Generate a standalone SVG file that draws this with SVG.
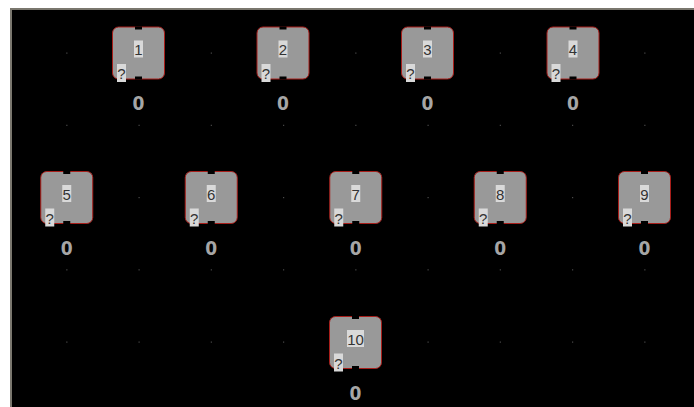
<svg xmlns="http://www.w3.org/2000/svg" xmlns:xlink="http://www.w3.org/1999/xlink" width="694" height="407" viewBox="0 0 694 407">
  <style>
    .body { fill: #999999; stroke: #a81e1a; stroke-width: 1; }
    .notch { fill: #000000; }
    .tag { fill: #d9d9d9; }
    .id { font-family: "Liberation Sans", Arial, sans-serif; font-size: 15px; fill: #333333; text-anchor: middle; }
    .q { font-family: "Liberation Sans", Arial, sans-serif; font-size: 15px; fill: #333333; text-anchor: middle; }
    .val { font-family: "DejaVu Sans Condensed", "Liberation Sans", sans-serif; font-size: 19px; font-weight: bold; fill: #a6a6a6; text-anchor: middle; }
    .dot { fill: #4a4a4a; }
  </style>
  <defs>
    <!-- shared block shape, centred on 0,0 -->
    <g id="block">
      <rect class="body" x="-26" y="-26" width="52" height="52" rx="6" ry="6"/>
      <rect class="notch" x="-3.5" y="-26.5" width="7" height="3"/>
      <rect class="notch" x="-3.5" y="23.5" width="7" height="3"/>
      <rect class="tag" x="-21.5" y="11" width="9" height="18"/>
      <text class="q" x="-17" y="26">?</text>
      <text class="val" x="0" y="57">0</text>
    </g>
    <rect id="d" class="dot" x="-0.5" y="-0.5" width="1.2" height="1.2"/>
  </defs>

  <!-- page and canvas frame -->
  <rect x="0" y="0" width="694" height="407" fill="#ffffff"/>
  <rect x="10" y="8" width="684" height="399" fill="#7a776e"/>
  <rect x="12" y="10" width="682" height="397" fill="#000000"/>

  <!-- grid dots -->
  <g id="grid">
    <use xlink:href="#d" x="66.75" y="53"/>
    <use xlink:href="#d" x="211.25" y="53"/>
    <use xlink:href="#d" x="355.75" y="53"/>
    <use xlink:href="#d" x="500.25" y="53"/>
    <use xlink:href="#d" x="644.75" y="53"/>
    <use xlink:href="#d" x="66.75" y="125.25"/>
    <use xlink:href="#d" x="139" y="125.25"/>
    <use xlink:href="#d" x="211.25" y="125.25"/>
    <use xlink:href="#d" x="283.5" y="125.25"/>
    <use xlink:href="#d" x="355.75" y="125.25"/>
    <use xlink:href="#d" x="428" y="125.25"/>
    <use xlink:href="#d" x="500.25" y="125.25"/>
    <use xlink:href="#d" x="572.5" y="125.25"/>
    <use xlink:href="#d" x="644.75" y="125.25"/>
    <use xlink:href="#d" x="139" y="197.5"/>
    <use xlink:href="#d" x="283.5" y="197.5"/>
    <use xlink:href="#d" x="428" y="197.5"/>
    <use xlink:href="#d" x="572.5" y="197.5"/>
    <use xlink:href="#d" x="66.75" y="269.75"/>
    <use xlink:href="#d" x="139" y="269.75"/>
    <use xlink:href="#d" x="211.25" y="269.75"/>
    <use xlink:href="#d" x="283.5" y="269.75"/>
    <use xlink:href="#d" x="355.75" y="269.75"/>
    <use xlink:href="#d" x="428" y="269.75"/>
    <use xlink:href="#d" x="500.25" y="269.75"/>
    <use xlink:href="#d" x="572.5" y="269.75"/>
    <use xlink:href="#d" x="644.75" y="269.75"/>
    <use xlink:href="#d" x="66.75" y="342"/>
    <use xlink:href="#d" x="139" y="342"/>
    <use xlink:href="#d" x="211.25" y="342"/>
    <use xlink:href="#d" x="283.5" y="342"/>
    <use xlink:href="#d" x="428" y="342"/>
    <use xlink:href="#d" x="500.25" y="342"/>
    <use xlink:href="#d" x="572.5" y="342"/>
    <use xlink:href="#d" x="644.75" y="342"/>
  </g>

  <g id="connectors"></g>

  <g id="node1" transform="translate(138.5,53)">
    <use xlink:href="#block"/>
    <rect class="tag" x="-4.5" y="-12.5" width="9" height="17"/><text class="id" x="0" y="2">1</text>
  </g>
  <g id="node2" transform="translate(283,53)">
    <use xlink:href="#block"/>
    <rect class="tag" x="-4.5" y="-12.5" width="9" height="17"/><text class="id" x="0" y="2">2</text>
  </g>
  <g id="node3" transform="translate(427.5,53)">
    <use xlink:href="#block"/>
    <rect class="tag" x="-4.5" y="-12.5" width="9" height="17"/><text class="id" x="0" y="2">3</text>
  </g>
  <g id="node4" transform="translate(573,53)">
    <use xlink:href="#block"/>
    <rect class="tag" x="-4.5" y="-12.5" width="9" height="17"/><text class="id" x="0" y="2">4</text>
  </g>
  <g id="node5" transform="translate(66.75,197.5)">
    <use xlink:href="#block"/>
    <rect class="tag" x="-4.5" y="-12.5" width="9" height="17"/><text class="id" x="0" y="2">5</text>
  </g>
  <g id="node6" transform="translate(211.25,197.5)">
    <use xlink:href="#block"/>
    <rect class="tag" x="-4.5" y="-12.5" width="9" height="17"/><text class="id" x="0" y="2">6</text>
  </g>
  <g id="node7" transform="translate(355.75,197.5)">
    <use xlink:href="#block"/>
    <rect class="tag" x="-4.5" y="-12.5" width="9" height="17"/><text class="id" x="0" y="2">7</text>
  </g>
  <g id="node8" transform="translate(500.25,197.5)">
    <use xlink:href="#block"/>
    <rect class="tag" x="-4.5" y="-12.5" width="9" height="17"/><text class="id" x="0" y="2">8</text>
  </g>
  <g id="node9" transform="translate(644.5,197.5)">
    <use xlink:href="#block"/>
    <rect class="tag" x="-4.5" y="-12.5" width="9" height="17"/><text class="id" x="0" y="2">9</text>
  </g>
  <g id="node10" transform="translate(355.5,342.5)">
    <use xlink:href="#block"/>
    <rect class="tag" x="-8.5" y="-12.5" width="17" height="17"/><text class="id" x="0" y="2">10</text>
  </g>
</svg>
